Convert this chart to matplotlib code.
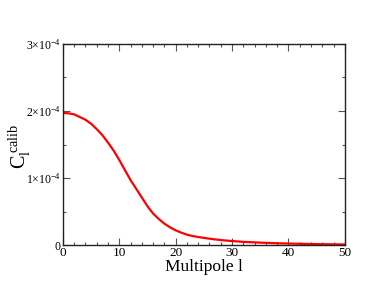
import matplotlib
matplotlib.use("Agg")
import matplotlib.pyplot as plt
from matplotlib.ticker import MultipleLocator, FixedLocator, FixedFormatter

plt.rcParams['font.family'] = ['Liberation Serif', 'DejaVu Serif']
plt.rcParams['mathtext.fontset'] = 'custom'
plt.rcParams['mathtext.rm'] = 'Liberation Serif'
plt.rcParams['mathtext.it'] = 'Liberation Serif:italic'

multipole = [0, 1, 2, 3, 4, 5, 6, 7, 8, 9, 10, 11, 12, 13, 14, 15, 16, 17,
             18, 19, 20, 21, 22, 23, 24, 26, 28, 30, 32, 34, 36, 38, 40,
             42, 44, 46, 48, 50]
cl_calib_e4 = [1.97, 1.965, 1.95, 1.91, 1.87, 1.81, 1.73, 1.64, 1.53, 1.41,
               1.27, 1.12, 0.97, 0.84, 0.71, 0.58, 0.47, 0.39, 0.32, 0.265,
               0.22, 0.185, 0.155, 0.135, 0.12, 0.095, 0.075, 0.06, 0.048,
               0.04, 0.033, 0.027, 0.023, 0.019, 0.016, 0.013, 0.011, 0.009]
cl_calib = [v * 1e-4 for v in cl_calib_e4]

y_ticks = [0, 1e-4, 2e-4, 3e-4]
y_ticklabels = ['0', r'$1{\times}10^{-4}$', r'$2{\times}10^{-4}$', r'$3{\times}10^{-4}$']
x_ticks = [0, 10, 20, 30, 40, 50]

fig = plt.figure(figsize=(3.74, 2.89), dpi=100)
ax = fig.add_axes([0.168, 0.152, 0.754, 0.696])
ax.plot(multipole, cl_calib, color='#ff0000', lw=1.6, solid_joinstyle='round')
ax.set_xlim(0, 50)
ax.set_ylim(0, 3e-4)
ax.xaxis.set_major_locator(FixedLocator(x_ticks))
ax.xaxis.set_minor_locator(MultipleLocator(2))
ax.yaxis.set_major_locator(FixedLocator(y_ticks))
ax.yaxis.set_major_formatter(FixedFormatter(y_ticklabels))
ax.yaxis.set_minor_locator(MultipleLocator(0.5e-4))
ax.tick_params(which='both', direction='in', top=True, right=True,
               color='#555555', pad=1.5)
ax.tick_params(axis='x', labelsize=9.5)
ax.tick_params(axis='y', labelsize=8.5)
ax.tick_params(which='major', length=5, width=0.8)
ax.tick_params(which='minor', length=2.5, width=0.8)
for s in ax.spines.values():
    s.set_linewidth(1.0)
    s.set_color('#222222')
ax.set_xlabel('Multipole l', fontsize=12.5, labelpad=0)
ax.set_ylabel(r'$\mathrm{C}_{\mathrm{l}}^{\;\mathrm{calib}}$', fontsize=14.5)
ax.yaxis.set_label_coords(-0.105, 0.49)
fig.savefig('out.png', dpi=100)
